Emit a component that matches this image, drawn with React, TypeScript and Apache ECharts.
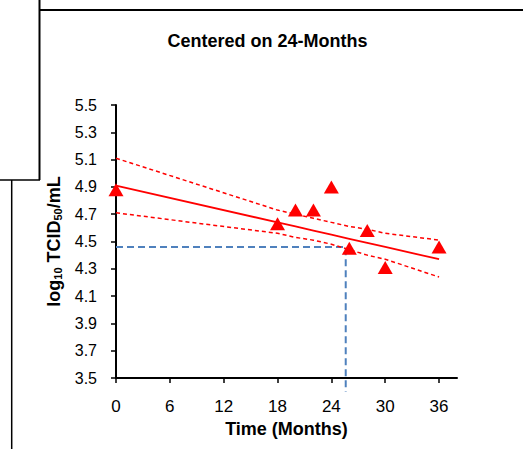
import React, { useEffect, useRef } from "react";
import * as echarts from "echarts";

// Potency stability data (log10 TCID50/mL) regressed on storage time
const months = [0, 18, 20, 22, 24, 26, 28, 30, 36];
const potency = [4.88, 4.63, 4.73, 4.73, 4.9, 4.45, 4.58, 4.31, 4.46];
const fitted = [4.91, 4.64, 4.61, 4.58, 4.55, 4.52, 4.49, 4.46, 4.37];
const upperBound = [5.11, 4.73, 4.7, 4.67, 4.64, 4.61, 4.59, 4.56, 4.51];
const lowerBound = [4.71, 4.56, 4.53, 4.51, 4.48, 4.44, 4.4, 4.37, 4.24];

// Specification limit and the month where the lower bound crosses it
const specLimit = 4.46;
const crossingMonth = 25.6;
const guideFloor = 3.4;

const xTicks = [0, 6, 12, 18, 24, 30, 36];
const yTicks = [3.5, 3.7, 3.9, 4.1, 4.3, 4.5, 4.7, 4.9, 5.1, 5.3, 5.5];

const FONT = "'Liberation Sans', Arial, sans-serif";
const RED = "#FF0000";
const BLUE = "#4F81BD";

const pairs = (ys: number[]) => months.map((m, i) => [m, ys[i]]);

export default function App() {
  const ref = useRef<HTMLDivElement>(null);

  useEffect(() => {
    if (!ref.current) return;
    const chart = echarts.init(ref.current, undefined, { renderer: "svg" });

    chart.setOption({
      animation: false,
      backgroundColor: "#ffffff",
      grid: { left: 116, right: 66, top: 105, bottom: 71 },
      xAxis: {
        type: "value",
        min: 0,
        max: 38,
        name: "Time (Months)",
        nameLocation: "middle",
        nameGap: 38,
        nameTextStyle: { fontFamily: FONT, fontWeight: "bold", fontSize: 18, color: "#000" },
        axisLine: { onZero: false, lineStyle: { color: "#000", width: 2 } },
        axisTick: { customValues: xTicks, length: 5, lineStyle: { color: "#000", width: 1.5 } },
        axisLabel: {
          customValues: xTicks,
          margin: 20,
          fontFamily: FONT,
          fontSize: 17,
          color: "#000",
        },
        splitLine: { show: false },
      },
      yAxis: {
        type: "value",
        min: 3.5,
        max: 5.5,
        name: "log{sub|10} TCID{sub|50}/mL",
        nameLocation: "middle",
        nameGap: 50,
        nameRotate: 90,
        nameTextStyle: {
          fontFamily: FONT,
          fontWeight: "bold",
          fontSize: 18,
          lineHeight: 20,
          color: "#000",
          rich: {
            sub: {
              fontFamily: FONT,
              fontWeight: "bold",
              fontSize: 11,
              lineHeight: 10,
              verticalAlign: "bottom",
              color: "#000",
            },
          },
        },
        axisLine: { show: true, onZero: false, lineStyle: { color: "#000", width: 2 } },
        axisTick: { show: true, customValues: yTicks, length: 5, lineStyle: { color: "#000", width: 1.5 } },
        axisLabel: {
          customValues: yTicks,
          margin: 19,
          fontFamily: FONT,
          fontSize: 16,
          color: "#000",
          formatter: (v: number) => v.toFixed(1),
        },
        splitLine: { show: false },
      },
      graphic: [
        {
          type: "text",
          x: 267.5,
          y: 41,
          style: {
            text: "Centered on 24-Months",
            font: `bold 18px ${FONT}`,
            fill: "#000",
            textAlign: "center",
            textVerticalAlign: "middle",
          },
        },
        { type: "line", shape: { x1: 40, y1: 10, x2: 523, y2: 10 }, style: { stroke: "#000", lineWidth: 2 } },
        { type: "line", shape: { x1: 39.5, y1: 0, x2: 39.5, y2: 180 }, style: { stroke: "#000", lineWidth: 2 } },
        { type: "line", shape: { x1: 0, y1: 180, x2: 40, y2: 180 }, style: { stroke: "#000", lineWidth: 1.5 } },
        { type: "line", shape: { x1: 11.7, y1: 180, x2: 11.7, y2: 449 }, style: { stroke: "#000", lineWidth: 1.5 } },
      ],
      series: [
        {
          name: "Shelf-life guide",
          type: "line",
          data: [
            [0, specLimit],
            [crossingMonth, specLimit],
            [crossingMonth, guideFloor],
          ],
          clip: false,
          showSymbol: false,
          lineStyle: { color: BLUE, width: 2, type: [7, 4] },
          z: 1,
        },
        {
          name: "Upper bound",
          type: "line",
          data: pairs(upperBound),
          showSymbol: false,
          lineStyle: { color: RED, width: 1.5, type: [4, 3] },
          z: 2,
        },
        {
          name: "Lower bound",
          type: "line",
          data: pairs(lowerBound),
          showSymbol: false,
          lineStyle: { color: RED, width: 1.5, type: [4, 3] },
          z: 2,
        },
        {
          name: "Fitted",
          type: "line",
          data: pairs(fitted),
          showSymbol: false,
          lineStyle: { color: RED, width: 1.8 },
          z: 3,
        },
        {
          name: "Potency",
          type: "scatter",
          data: pairs(potency),
          symbol: "triangle",
          symbolSize: [15, 13],
          itemStyle: { color: RED, opacity: 1 },
          z: 4,
        },
      ],
    });

    return () => chart.dispose();
  }, []);

  return (
    <div
      ref={ref}
      style={{ position: "absolute", left: 0, top: 0, width: 523, height: 449 }}
    />
  );
}
